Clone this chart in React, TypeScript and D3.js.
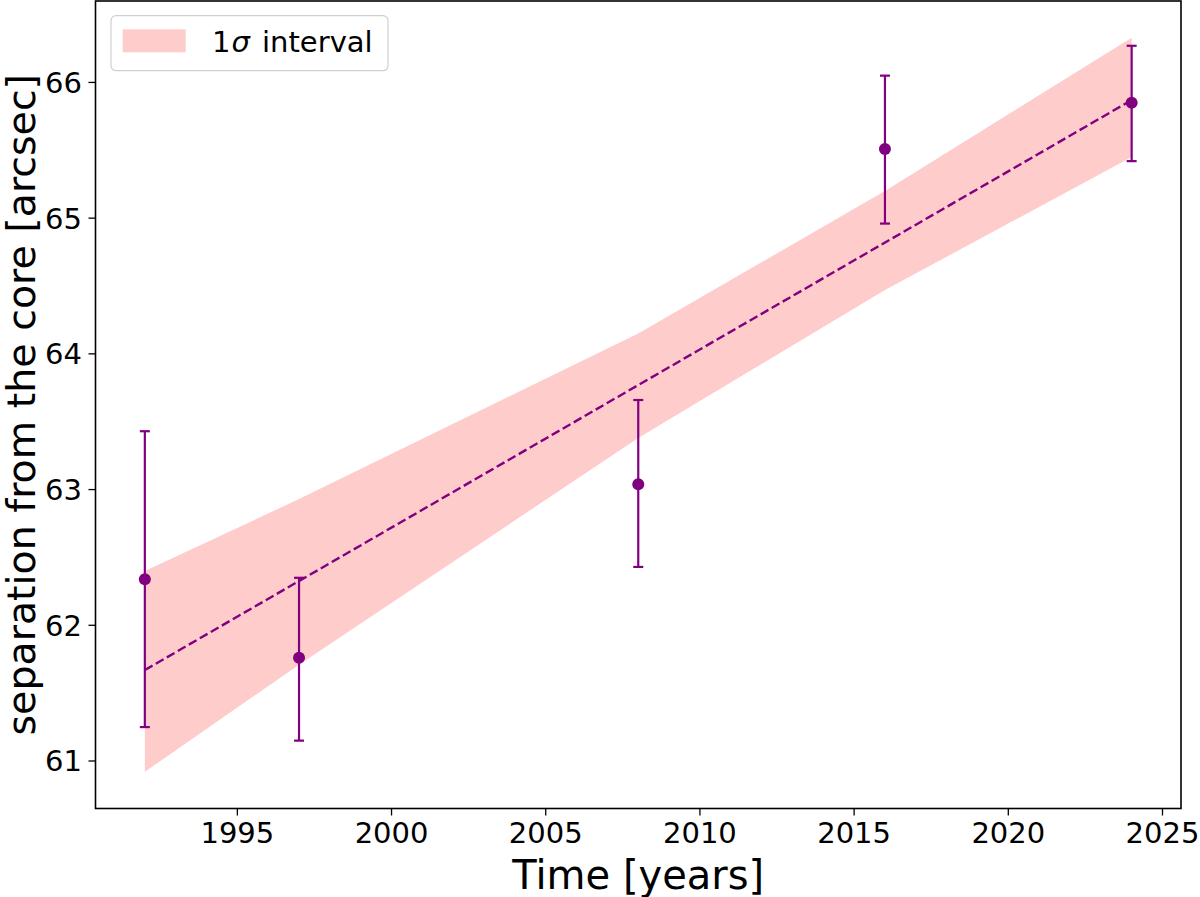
import React from "react";
import * as d3 from "d3";

const years = [1992, 1997, 2008, 2016, 2024];
const separation = [62.34, 61.76, 63.04, 65.51, 65.85];
const errLow = [1.09, 0.61, 0.61, 0.55, 0.43];
const errHigh = [1.09, 0.59, 0.62, 0.54, 0.42];
const bandUpper = [62.40, 62.93, 64.15, 65.20, 66.33];
const bandLower = [60.92, 61.71, 63.38, 64.47, 65.45];
const fitYears = [1992, 2024];
const fitValues = [61.67, 65.87];
const xTicks = [1995, 2000, 2005, 2010, 2015, 2020, 2025];
const yTicks = [61, 62, 63, 64, 65, 66];

const W = 1200;
const H = 897;
const L = 95.5, R = 1181, T = 1, B = 808.5;
const PURPLE = "#800080";
const FONT = "DejaVu Sans, sans-serif";

export default function App() {
  const x = d3.scaleLinear().domain([1990.4, 2025.6]).range([L, R]);
  const y = d3.scaleLinear().domain([60.65, 66.6]).range([B, T]);

  const bandData = years.map((yr, i) => ({ yr, lo: bandLower[i], hi: bandUpper[i] }));
  const area = d3
    .area<{ yr: number; lo: number; hi: number }>()
    .x((d) => x(d.yr))
    .y0((d) => y(d.lo))
    .y1((d) => y(d.hi));
  const fitLine = d3
    .line<number>()
    .x((_, i) => x(fitYears[i]))
    .y((d) => y(d));

  return (
    <svg
      width={W}
      height={H}
      style={{ position: "absolute", left: 0, top: 0, background: "#fff" }}
      fontFamily={FONT}
    >
      <rect x={0} y={0} width={W} height={H} fill="#fff" />
      <path d={area(bandData) || ""} fill="#ffcccc" />
      <path
        d={fitLine(fitValues) || ""}
        fill="none"
        stroke={PURPLE}
        strokeWidth={2.4}
        strokeDasharray="8.9 3.8"
      />
      {years.map((yr, i) => {
        const cx = x(yr);
        const yTop = y(separation[i] + errHigh[i]);
        const yBot = y(separation[i] - errLow[i]);
        return (
          <g key={yr}>
            <line x1={cx} x2={cx} y1={yTop} y2={yBot} stroke={PURPLE} strokeWidth={2.2} />
            <line x1={cx - 5} x2={cx + 5} y1={yTop} y2={yTop} stroke={PURPLE} strokeWidth={2.2} />
            <line x1={cx - 5} x2={cx + 5} y1={yBot} y2={yBot} stroke={PURPLE} strokeWidth={2.2} />
            <circle cx={cx} cy={y(separation[i])} r={6} fill={PURPLE} />
          </g>
        );
      })}
      <rect x={L} y={T} width={R - L} height={B - T} fill="none" stroke="#000" strokeWidth={1.6} />
      {xTicks.map((t) => (
        <g key={t}>
          <line x1={x(t)} x2={x(t)} y1={B} y2={B + 7} stroke="#000" strokeWidth={1.3} />
          <text x={x(t)} y={843} textAnchor="middle" fontSize={29} fill="#000">
            {t}
          </text>
        </g>
      ))}
      {yTicks.map((t) => (
        <g key={t}>
          <line x1={L - 7} x2={L} y1={y(t)} y2={y(t)} stroke="#000" strokeWidth={1.3} />
          <text x={82} y={y(t)} dy="0.36em" textAnchor="end" fontSize={29} fill="#000">
            {t}
          </text>
        </g>
      ))}
      <text x={(L + R) / 2} y={889} textAnchor="middle" fontSize={40} fill="#000">
        Time [years]
      </text>
      <text
        transform={`translate(35, ${(T + B) / 2}) rotate(-90)`}
        textAnchor="middle"
        fontSize={39.5}
        fill="#000"
      >
        separation from the core [arcsec]
      </text>
      <g>
        <rect x={111} y={15.7} width={277} height={55} rx={5} fill="#fff" fillOpacity={0.8} stroke="#d0d0d0" strokeWidth={1.2} />
        <rect x={122.7} y={29.3} width={63} height={23} fill="#ffcccc" />
        <text x={212} y={52} fontSize={29} fill="#000">
          1<tspan dx={1} fontStyle="italic">σ</tspan>
          <tspan dx={3}>{"\u00A0interval"}</tspan>
        </text>
      </g>
    </svg>
  );
}
